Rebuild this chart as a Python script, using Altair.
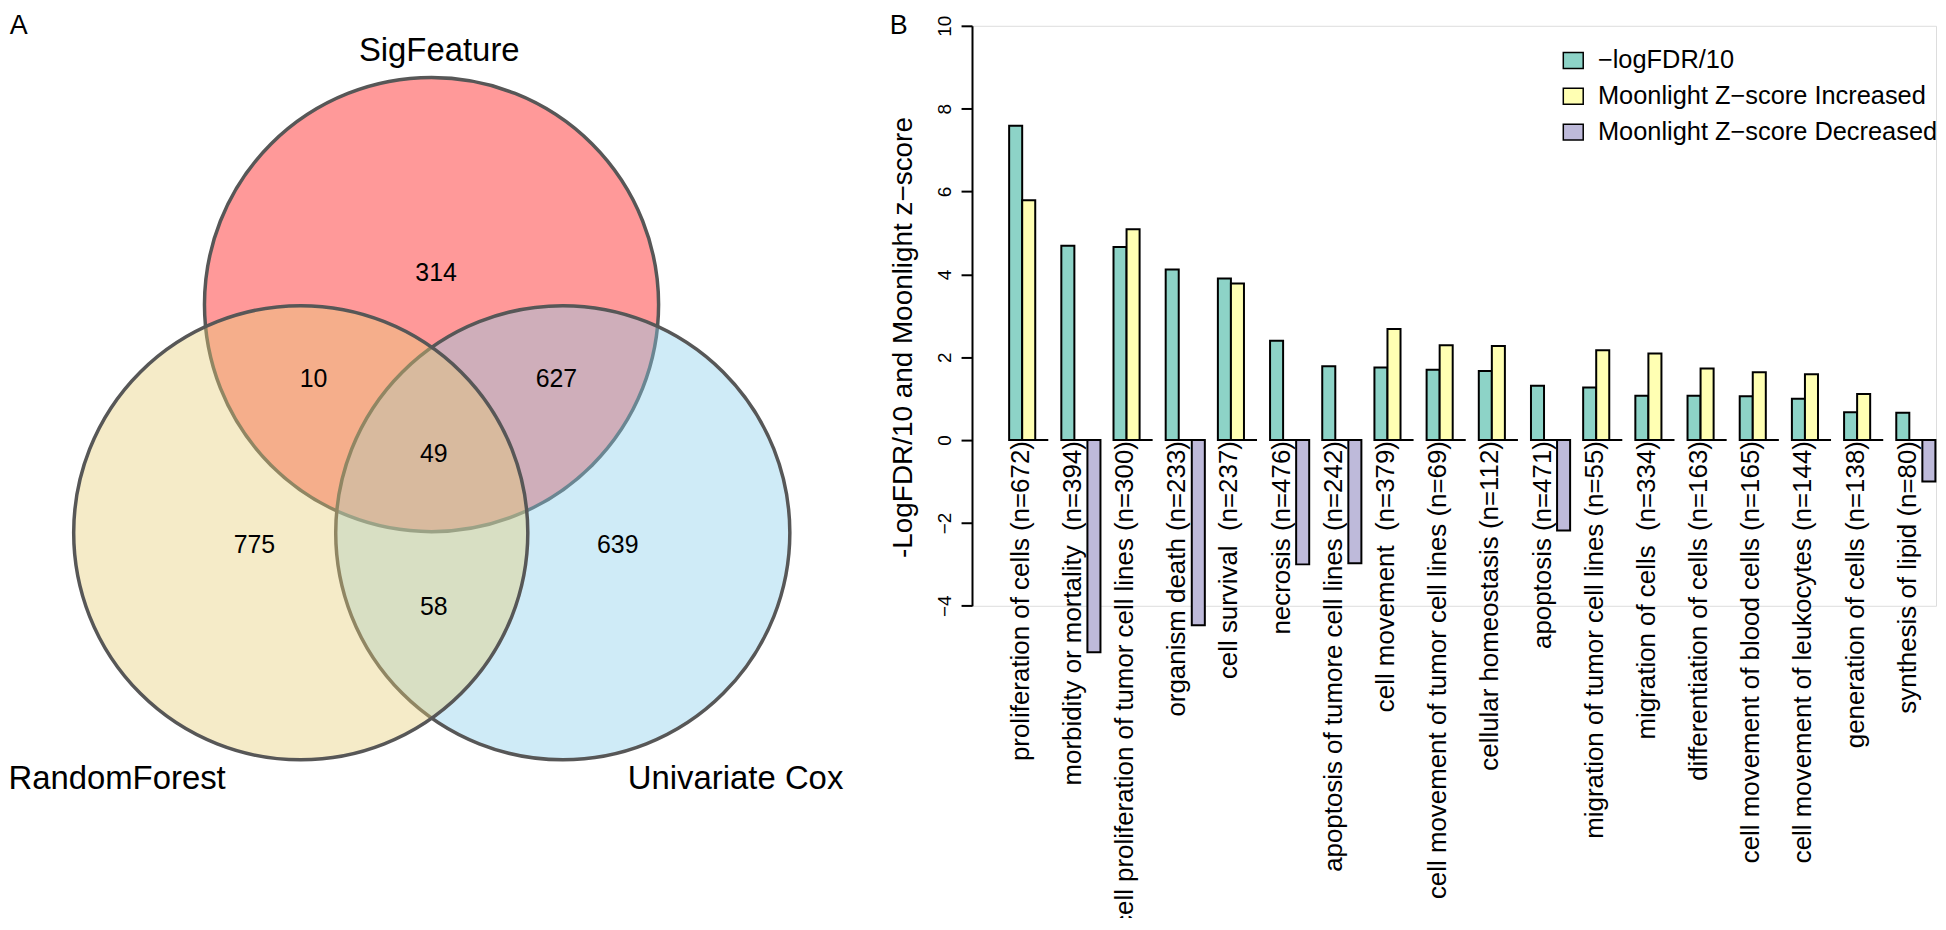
import altair as alt
import pandas as pd

FONT = "Liberation Sans"

# ---------------- Panel A: Venn diagram ----------------
set_names = ["SigFeature", "Univariate Cox", "RandomForest"]   # drawing order
set_u = [0.0, 0.578, -0.576]          # circle centres, in units of the radius
set_v = [0.67, -0.335, -0.335]
set_colors = ["#FF0000", "#87CEEB", "#E6CD75"]
set_label_u = [0.034, 1.339, -1.385]
set_label_v = [1.788, -1.419, -1.419]

region_counts = ["314", "10", "627", "49", "775", "639", "58"]
region_u = [0.02, -0.52, 0.55, 0.01, -0.78, 0.82, 0.01]
region_v = [0.81, 0.34, 0.34, 0.01, -0.39, -0.39, -0.66]

panel_letters = ["A", "B"]
panel_u = [-1.818, 2.058]
panel_v = [1.898, 1.898]

# ---------------- Panel B: bar chart ----------------
terms = [
    "proliferation of cells (n=672)",
    "morbidity or mortality \u00a0(n=394)",
    "cell proliferation of tumor cell lines (n=300)",
    "organism death (n=233)",
    "cell survival \u00a0(n=237)",
    "necrosis (n=476)",
    "apoptosis of tumore cell lines (n=242)",
    "cell movement \u00a0(n=379)",
    "cell movement of tumor cell lines (n=69)",
    "cellular homeostasis (n=112)",
    "apoptosis (n=471)",
    "migration of tumor cell lines (n=55)",
    "migration of cells \u00a0(n=334)",
    "differentiation of cells (n=163)",
    "cell movement of blood cells (n=165)",
    "cell movement of leukocytes (n=144)",
    "generation of cells (n=138)",
    "synthesis of lipid (n=80)",
]
logfdr = [7.59, 4.69, 4.66, 4.12, 3.90, 2.40, 1.78, 1.75, 1.70, 1.67, 1.31, 1.27, 1.07, 1.07, 1.06, 1.00, 0.67, 0.66]
z_increased = [5.79, 0, 5.09, 0, 3.78, 0, 0, 2.68, 2.29, 2.27, 0, 2.17, 2.09, 1.73, 1.64, 1.59, 1.11, 0]
z_decreased = [0, -5.12, 0, -4.47, 0, -3.00, -2.97, 0, 0, 0, -2.18, 0, 0, 0, 0, 0, 0, -1.00]
series = ["\u2212logFDR/10", "Moonlight Z\u2212score Increased", "Moonlight Z\u2212score Decreased"]
series_colors = ["#8DD3C7", "#FFFFB3", "#BEBADA"]
y_ticks = [-4, -2, 0, 2, 4, 6, 8, 10]

# ---------------- tables ----------------
circles = pd.DataFrame({"set": set_names, "u": set_u, "v": set_v, "order": [1, 2, 3]})
set_labels = pd.DataFrame({"set": set_names, "u": set_label_u, "v": set_label_v})
regions = pd.DataFrame({"count": region_counts, "u": region_u, "v": region_v})
letters = pd.DataFrame({"letter": panel_letters, "u": panel_u, "v": panel_v})

rows = []
for i, t in enumerate(terms):
    for s, vals in zip(series, [logfdr, z_increased, z_decreased]):
        rows.append({"term": t, "series": s, "value": vals[i]})
bars_df = pd.DataFrame(rows)
labels_df = pd.DataFrame({"term": terms, "zero": [0] * len(terms)})

W, H = 968, 582.4

vx = alt.Scale(domain=[2.3803, 6.6259], nice=False, zero=False)
vy = alt.Scale(domain=[-0.6566, 1.8978], nice=False, zero=False)
VX = alt.X("u:Q", scale=vx, axis=None)
VY = alt.Y("v:Q", scale=vy, axis=None)

venn_circles = alt.Chart(circles).mark_point(
    shape="circle", filled=True, size=456 * 456, opacity=1, fillOpacity=0.4,
    stroke="#575757", strokeWidth=3.5, strokeOpacity=1
).encode(
    x=VX, y=VY,
    fill=alt.Fill("set:N", scale=alt.Scale(domain=set_names, range=set_colors), legend=None),
    order=alt.Order("order:Q"),
)
venn_counts = alt.Chart(regions).mark_text(
    font=FONT, fontSize=25, color="black", align="center", baseline="middle"
).encode(x=VX, y=VY, text="count:N")
venn_set_labels = alt.Chart(set_labels).mark_text(
    font=FONT, fontSize=33, color="black", align="center", baseline="middle"
).encode(x=VX, y=VY, text="set:N")
venn_letters = alt.Chart(letters).mark_text(
    font=FONT, fontSize=27, color="black", align="center", baseline="middle"
).encode(x=VX, y=VY, text="letter:N")

venn = alt.layer(venn_circles, venn_counts, venn_set_labels, venn_letters)

BX = alt.X(
    "term:N", sort=terms, axis=None,
    scale=alt.Scale(paddingInner=0.25, paddingOuter=0.3616, align=0.984),
)
bars = alt.Chart(bars_df).mark_bar(stroke="black", strokeWidth=2).encode(
    x=BX,
    xOffset=alt.XOffset("series:N", sort=series, scale=alt.Scale(paddingInner=0, paddingOuter=0)),
    y=alt.Y(
        "value:Q", stack=None,
        scale=alt.Scale(domain=[-4, 10], nice=False, zero=False),
        axis=alt.Axis(
            values=y_ticks, grid=False, tickSize=11, tickWidth=2, domainWidth=2,
            tickColor="black", domainColor="black",
            labelAngle=270, labelAlign="center", labelBaseline="bottom", labelPadding=7,
            labelFont=FONT, labelFontSize=19, labelColor="black",
            title="-LogFDR/10 and Moonlight z\u2212score", titleFont=FONT, titleFontSize=28,
            titleFontWeight="normal", titleColor="black", titleAngle=270,
            titleAlign="center", titleBaseline="middle", titleX=-69, titleY=312.5,
            titleLimit=0,
        ),
    ),
    fill=alt.Fill(
        "series:N", sort=series,
        scale=alt.Scale(domain=series, range=series_colors),
        legend=alt.Legend(
            orient="none", legendX=591, legendY=22, title=None, padding=0,
            symbolType="M-1,-0.8H1V0.8H-1Z", symbolSize=400, symbolStrokeColor="black",
            symbolStrokeWidth=1.5, symbolOpacity=1,
            labelFont=FONT, labelFontSize=25.5, labelColor="black",
            labelOffset=12, rowPadding=9, labelLimit=0,
        ),
    ),
)
term_labels = alt.Chart(labels_df).mark_text(
    font=FONT, fontSize=26, color="black", angle=270, align="right",
    baseline="alphabetic", dx=-1, dy=0,
).encode(x=BX, y=alt.Y("zero:Q"), text="term:N")

barplot = alt.layer(bars, term_labels)

chart = alt.layer(venn, barplot).resolve_scale(
    x="independent", y="independent", fill="independent"
).properties(
    width=W, height=H,
    autosize=alt.AutoSizeParams(type="none"),
    padding={"left": 968, "top": 16, "right": 2, "bottom": 312},
).configure_view(stroke=None).configure(background="white")

chart.save("out.html", embed_options={"renderer": "svg", "actions": False})
